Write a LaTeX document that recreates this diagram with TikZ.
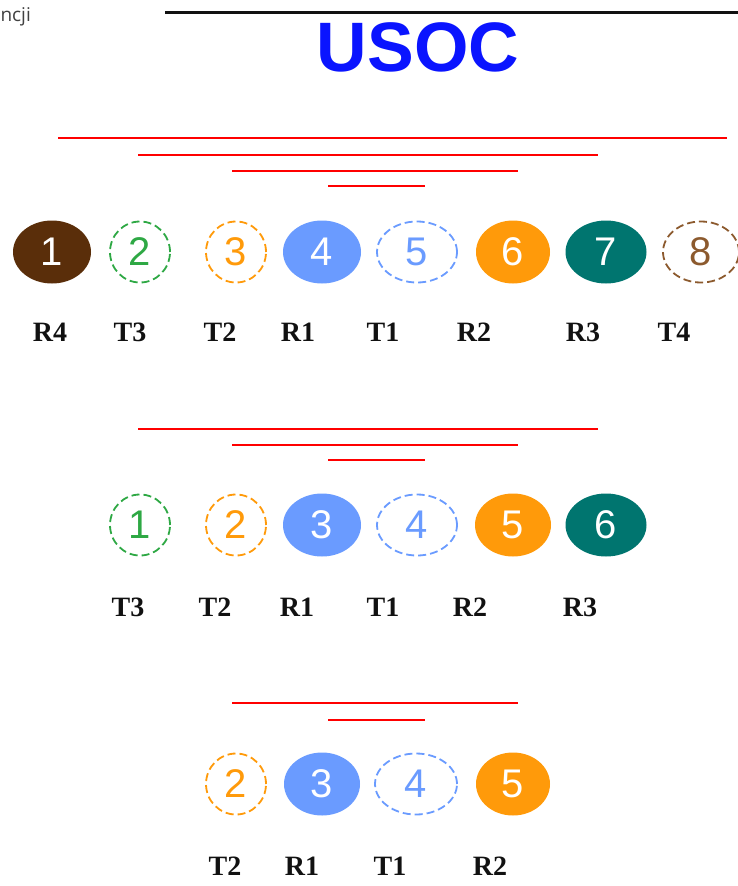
\documentclass[tikz,border=0pt]{standalone}
\usepackage{fontspec}
\setmainfont{Liberation Serif}
\newfontfamily\pinfont{Liberation Sans}
\newfontfamily\notefont{Open Sans}
\usetikzlibrary{positioning, shapes.geometric}
\definecolor{Dark}{HTML}{111111}
\definecolor{Wire}{HTML}{FF0000}
\definecolor{Title}{HTML}{0A14FF}
\definecolor{Brown}{HTML}{5A2E0A}
\definecolor{Tan}{HTML}{8C5A2E}
\definecolor{Green}{HTML}{2EA844}
\definecolor{Orange}{HTML}{FF9A0A}
\definecolor{Blue}{HTML}{6A9BFF}
\definecolor{Teal}{HTML}{00756F}
\definecolor{White}{HTML}{FFFFFF}
\tikzset{
    pinfull/.style={ellipse, fill=#1, text=White, inner sep=0pt, minimum width=78pt, minimum height=63pt, font=\pinfont\fontsize{40}{40}\selectfont},
    pinring/.style={ellipse, draw=#1, text=#1, dash pattern=on 8pt off 4pt, line width=1.8pt, inner sep=0pt, minimum width=60pt, minimum height=61pt, font=\pinfont\fontsize{40}{40}\selectfont},
    pinlabel/.style={text=Dark, font=\bfseries\fontsize{28}{28}\selectfont},
    pair/.style={draw=Wire, line width=2.6pt},
}

\begin{document}
\begin{tikzpicture}[x=1pt, y=-1pt]
    \useasboundingbox (0,0) rectangle (738,886);

    % Testata
    \node[anchor=west, text=Dark!80, font=\notefont\fontsize{19}{19}\selectfont] (note) at (-3,17) {ncji};
    \draw[line width=3pt, Dark] (165,12) -- (738,12);
    \node[text=Title, font=\pinfont\bfseries\fontsize{70}{70}\selectfont] (title) at (418,47) {USOC};

    % Coppie RJ45 (8 pin)
    \draw[pair] (58,138) -- (727,138);
    \draw[pair] (138,155) -- (598,155);
    \draw[pair] (232,171) -- (518,171);
    \draw[pair] (328,186) -- (425,186);

    \node[pinfull=Brown] (a1) at (52,252) {1};
    \node[pinring=Green] (a2) at (140,252) {2};
    \node[pinring=Orange] (a3) at (236,252) {3};
    \node[pinfull=Blue] (a4) at (322,252) {4};
    \node[pinring=Blue, minimum width=80pt] (a5) at (417,252) {5};
    \node[pinfull=Orange, minimum width=74pt] (a6) at (513,252) {6};
    \node[pinfull=Teal, minimum width=81pt] (a7) at (606,252) {7};
    \node[pinring=Tan, minimum width=76pt] (a8) at (701,252) {8};

    \node[pinlabel] (la1) at (50,332) {R4};
    \node[pinlabel] (la2) at (130,332) {T3};
    \node[pinlabel] (la3) at (220,332) {T2};
    \node[pinlabel] (la4) at (298,332) {R1};
    \node[pinlabel] (la5) at (383,332) {T1};
    \node[pinlabel] (la6) at (474,332) {R2};
    \node[pinlabel] (la7) at (583,332) {R3};
    \node[pinlabel] (la8) at (674,332) {T4};

    % Coppie RJ25 (6 pin)
    \draw[pair] (138,429) -- (598,429);
    \draw[pair] (232,445) -- (518,445);
    \draw[pair] (328,460) -- (425,460);

    \node[pinring=Green] (b1) at (140,525) {1};
    \node[pinring=Orange] (b2) at (236,525) {2};
    \node[pinfull=Blue] (b3) at (322,525) {3};
    \node[pinring=Blue, minimum width=80pt] (b4) at (417,525) {4};
    \node[pinfull=Orange, minimum width=76pt] (b5) at (513,525) {5};
    \node[pinfull=Teal, minimum width=81pt] (b6) at (606,525) {6};

    \node[pinlabel] (lb1) at (128,607) {T3};
    \node[pinlabel] (lb2) at (215,607) {T2};
    \node[pinlabel] (lb3) at (297,607) {R1};
    \node[pinlabel] (lb4) at (383,607) {T1};
    \node[pinlabel] (lb5) at (470,607) {R2};
    \node[pinlabel] (lb6) at (580,607) {R3};

    % Coppie RJ11 (4 pin)
    \draw[pair] (232,703) -- (518,703);
    \draw[pair] (328,720) -- (425,720);

    \node[pinring=Orange] (c2) at (236,784) {2};
    \node[pinfull=Blue, minimum width=76pt] (c3) at (322,784) {3};
    \node[pinring=Blue, minimum width=82pt] (c4) at (416,784) {4};
    \node[pinfull=Orange, minimum width=74pt] (c5) at (513,784) {5};

    \node[pinlabel] (lc2) at (225,866) {T2};
    \node[pinlabel] (lc3) at (302,866) {R1};
    \node[pinlabel] (lc4) at (390,866) {T1};
    \node[pinlabel] (lc5) at (490,866) {R2};
\end{tikzpicture}
\end{document}
